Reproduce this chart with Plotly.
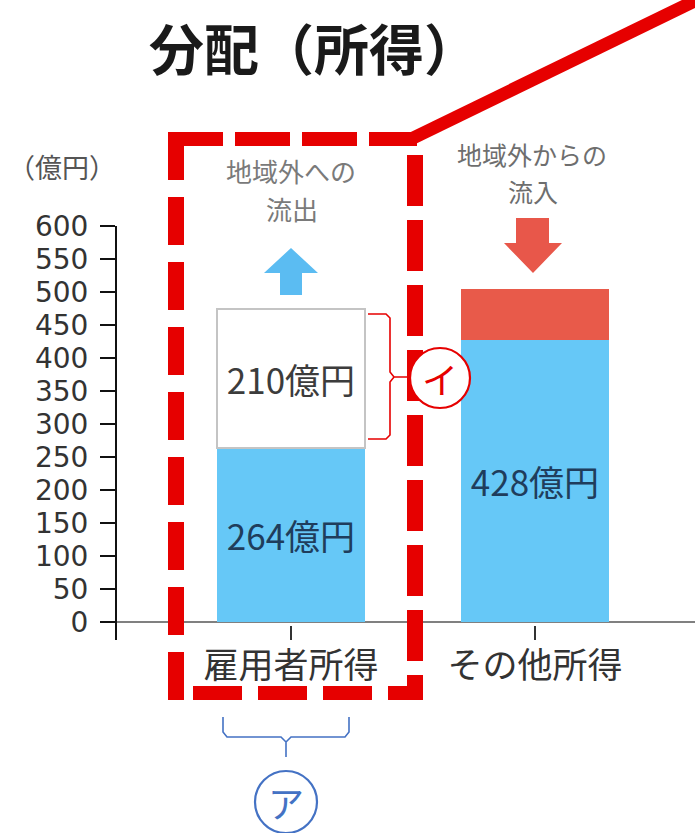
import plotly.graph_objects as go

# ---- data ----
categories = ["雇用者所得", "その他所得"]
income_in_region = [264, 428]      # blue
outflow = [210, None]              # white (地域外への流出)
inflow = [None, 76]                # red (地域外からの流入)
y_ticks = [0, 50, 100, 150, 200, 250, 300, 350, 400, 450, 500, 550, 600]

FONT = "Noto Sans CJK JP"
W, H = 695, 833
ML, MR, MT, MB = 117, 0, 226, 193
PW, PH = W - ML - MR, H - MT - MB


def fx(x):
    return (x - ML) / PW


def fy(y):
    return (H - MB - y) / PH


def path(points, close=True):
    s = "M " + " L ".join(f"{fx(x)},{fy(y)}" for x, y in points)
    return s + (" Z" if close else "")


fig = go.Figure()

fig.add_trace(go.Bar(
    x=categories, y=income_in_region, width=0.607,
    marker=dict(color="#66c8f7", line=dict(width=0)),
    text=[f"{v}億円" for v in income_in_region],
    textposition="inside", insidetextanchor="middle", textangle=0,
    insidetextfont=dict(family=FONT, size=35, color="#1f3d5c"),
    hoverinfo="skip",
))
fig.add_trace(go.Bar(
    x=categories, y=outflow, width=0.607,
    marker=dict(color="#ffffff", line=dict(width=2, color="#c4c4c4")),
    text=[f"{v}億円" if v else "" for v in outflow],
    textposition="inside", insidetextanchor="middle", textangle=0,
    insidetextfont=dict(family=FONT, size=35, color="#3c3c3c"),
    hoverinfo="skip",
))
fig.add_trace(go.Bar(
    x=categories, y=inflow, width=0.607,
    marker=dict(color="#e85a4a", line=dict(width=0)),
    hoverinfo="skip",
))

shapes = []
red = "#e60000"

# dashed frame around 雇用者所得
shapes.append(dict(type="line", xref="paper", yref="paper",
                   x0=fx(168), y0=fy(139), x1=fx(417), y1=fy(139),
                   line=dict(color=red, width=14, dash="55px,12px")))
shapes.append(dict(type="line", xref="paper", yref="paper",
                   x0=fx(176), y0=fy(132), x1=fx(176), y1=fy(700),
                   line=dict(color=red, width=16, dash="48px,17px")))
shapes.append(dict(type="line", xref="paper", yref="paper",
                   x0=fx(415), y0=fy(155), x1=fx(415), y1=fy(700),
                   line=dict(color=red, width=16, dash="51px,14px")))
shapes.append(dict(type="line", xref="paper", yref="paper",
                   x0=fx(193), y0=fy(693), x1=fx(422), y1=fy(693),
                   line=dict(color=red, width=14, dash="49px,16px")))
# leader line to the upper right
shapes.append(dict(type="line", xref="paper", yref="paper",
                   x0=fx(409), y0=fy(140), x1=fx(705), y1=fy(-4),
                   line=dict(color=red, width=13)))

# arrows
shapes.append(dict(type="path", xref="paper", yref="paper",
                   path=path([(291, 248), (318, 273), (302, 273), (302, 295),
                              (280, 295), (280, 273), (264, 273)]),
                   fillcolor="#5bbcf2", line=dict(width=0)))
shapes.append(dict(type="path", xref="paper", yref="paper",
                   path=path([(516, 218), (549, 218), (549, 243), (562, 243),
                              (533, 273), (504, 243), (516, 243)]),
                   fillcolor="#e8574a", line=dict(width=0)))

# bracket イ
shapes.append(dict(type="path", xref="paper", yref="paper",
                   path=path([(368, 314), (386, 314), (390, 318), (390, 372),
                              (394, 377), (410, 377), (394, 377), (390, 382),
                              (390, 435), (386, 439), (368, 439)], close=False),
                   line=dict(color="#e60000", width=1.6)))
shapes.append(dict(type="circle", xref="paper", yref="paper",
                   x0=fx(410), x1=fx(470), y0=fy(348), y1=fy(408),
                   fillcolor="#ffffff", line=dict(color="#e60000", width=2.2)))

# bracket ア
blue = "#4472c4"
shapes.append(dict(type="path", xref="paper", yref="paper",
                   path=path([(223, 717), (223, 732), (227, 737), (281, 737),
                              (286, 742), (286, 757), (286, 742), (291, 737),
                              (345, 737), (349, 732), (349, 717)], close=False),
                   line=dict(color=blue, width=1.6)))
shapes.append(dict(type="circle", xref="paper", yref="paper",
                   x0=fx(255), x1=fx(317), y0=fy(771), y1=fy(833),
                   fillcolor="rgba(0,0,0,0)", line=dict(color=blue, width=2.2)))

annotations = [
    dict(text="<b>分配（所得）</b>", x=fx(314), y=fy(46),
         font=dict(family=FONT, size=55, color="#1a1a1a")),
    dict(text="（億円）", x=fx(62), y=fy(166),
         font=dict(family=FONT, size=27, color="#555555")),
    dict(text="地域外への", x=fx(291), y=fy(170),
         font=dict(family=FONT, size=26, color="#7a7a7a")),
    dict(text="流出", x=fx(292), y=fy(208),
         font=dict(family=FONT, size=26, color="#7a7a7a")),
    dict(text="地域外からの", x=fx(532), y=fy(154),
         font=dict(family=FONT, size=25, color="#6e6e6e")),
    dict(text="流入", x=fx(533), y=fy(191),
         font=dict(family=FONT, size=25, color="#6e6e6e")),
    dict(text="イ", x=fx(440), y=fy(378),
         font=dict(family=FONT, size=36, color="#e60000")),
    dict(text="ア", x=fx(286), y=fy(802),
         font=dict(family=FONT, size=36, color=blue)),
]
for a in annotations:
    a.update(xref="paper", yref="paper", showarrow=False,
             xanchor="center", yanchor="middle", borderpad=0)

fig.update_layout(
    width=W, height=H,
    margin=dict(l=ML, r=MR, t=MT, b=MB, pad=0),
    paper_bgcolor="#ffffff", plot_bgcolor="#ffffff",
    barmode="stack", showlegend=False,
    font=dict(family=FONT),
    shapes=shapes, annotations=annotations,
    xaxis=dict(
        range=[-0.713, 1.656], showline=False, showgrid=False, zeroline=False,
        ticks="inside", ticklen=14, tickwidth=2, tickcolor="#333333",
        tickfont=dict(family=FONT, size=35, color="#333333"),
        ticklabelstandoff=2, fixedrange=True,
    ),
    yaxis=dict(
        range=[-27.3, 600], tickvals=y_ticks,
        showline=True, linecolor="#111111", linewidth=2,
        ticks="outside", ticklen=15, tickwidth=2, tickcolor="#111111",
        tickfont=dict(family="DejaVu Sans", size=28, color="#333333"),
        ticklabelstandoff=6,
        showgrid=False, zeroline=True, zerolinecolor="#808080", zerolinewidth=2,
        fixedrange=True,
    ),
)

fig.write_html("out.html")
